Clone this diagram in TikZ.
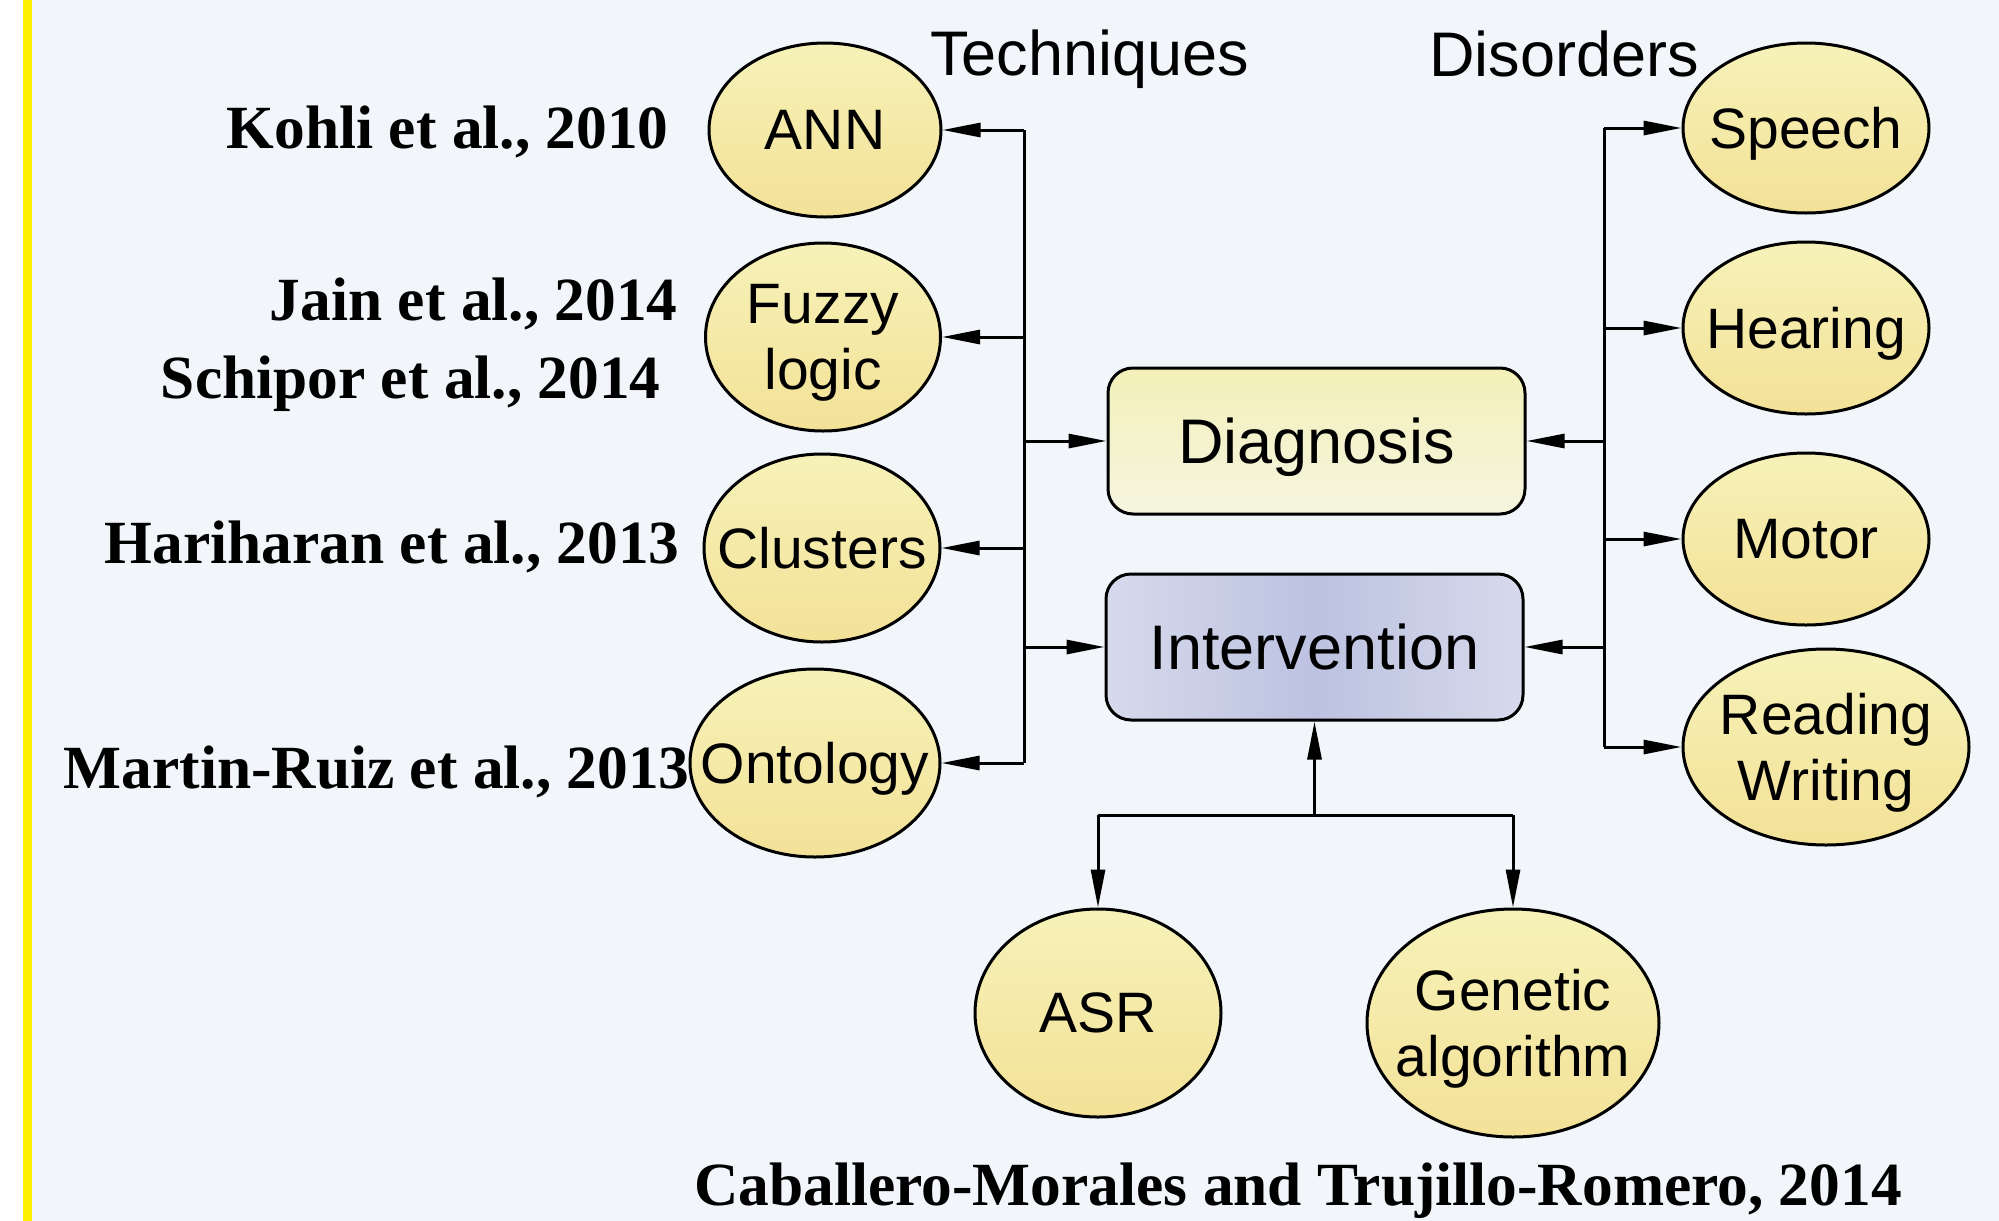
\documentclass[tikz,border=0pt]{standalone}
\usepackage{fontspec}
\setmainfont{Liberation Sans}
\newfontfamily\reffont{Liberation Serif}
\usetikzlibrary{shapes.geometric,arrows.meta}
\definecolor{bgc}{HTML}{F2F6FA}
\definecolor{stripe}{HTML}{FFF200}
\definecolor{ellTop}{HTML}{F6F2B8}
\definecolor{ellBot}{HTML}{F3E197}
\definecolor{diagTop}{HTML}{F3F0B8}
\definecolor{diagBot}{HTML}{F5F5E0}
\definecolor{intEdge}{HTML}{D7DAEC}
\definecolor{intMid}{HTML}{BCC2E0}
\begin{document}
\begin{tikzpicture}[x=0.5pt,y=-0.5pt,
  ell/.style={ellipse, draw=black, line width=1.5pt, top color=ellTop, bottom color=ellBot, inner sep=0pt},
  etxt/.style={align=center, inner sep=0pt, text depth=0pt, font=\fontsize{28.5}{33}\selectfont},
  etxtb/.style={align=center, inner sep=0pt, yshift=-3pt, font=\fontsize{28.5}{33}\selectfont},
  box/.style={rectangle, rounded corners=12.5pt, draw=black, line width=1.5pt, minimum width=208.5pt, minimum height=73pt, inner sep=0pt, text depth=0pt, font=\fontsize{31.5}{36}\selectfont},
  conn/.style={line width=1.5pt},
  arr/.style={conn, -{Triangle[length=19pt,width=7pt]}},
  reftxt/.style={font=\reffont\bfseries\fontsize{30.7}{34}\selectfont, inner sep=0pt, anchor=base east},
  head/.style={font=\fontsize{31.5}{36}\selectfont, anchor=base west, inner sep=0pt}]
% background
\fill[white] (0,0) rectangle (1999,1221);
\fill[bgc] (32,0) rectangle (1999,1221);
\fill[stripe] (23,0) rectangle (32,1221);
\useasboundingbox (0,0) rectangle (1999,1221);

% headers
\node[head] (hTech) at (930,75) {Techniques};
\node[head] (hDis) at (1429,76) {Disorders};

% technique ellipses
\node[ell, minimum width=116pt, minimum height=87pt] (ann) at (825,130) {};
\node[etxt] at (ann) {ANN};
\node[ell, minimum width=117.5pt, minimum height=94pt] (fuzzy) at (823,337) {};
\node[etxtb] at (fuzzy) {Fuzzy\\logic};
\node[ell, minimum width=118pt, minimum height=94pt] (clus) at (822,548) {};
\node[etxt] at (clus) {Clusters};
\node[ell, minimum width=125pt, minimum height=94pt] (onto) at (815,763) {};
\node[etxt] at (onto) {Ontology};

% disorder ellipses
\node[ell, minimum width=123pt, minimum height=85pt] (speech) at (1806,128) {};
\node[etxt] at (speech) {Speech};
\node[ell, minimum width=123pt, minimum height=86pt] (hear) at (1806,328) {};
\node[etxt] at (hear) {Hearing};
\node[ell, minimum width=123pt, minimum height=86pt] (motor) at (1806,539) {};
\node[etxt] at (motor) {Motor};
\node[ell, minimum width=143pt, minimum height=98pt] (read) at (1826,747) {};
\node[etxtb] at (read) {Reading\\Writing};

% bottom ellipses
\node[ell, minimum width=123pt, minimum height=104pt] (asr) at (1098,1013) {};
\node[etxt] at (asr) {ASR};
\node[ell, minimum width=146pt, minimum height=114pt] (gen) at (1513,1023) {};
\node[etxtb] at (gen) {Genetic\\algorithm};

% boxes
\node[box, top color=diagTop, bottom color=diagBot] (diag) at (1316.5,441) {Diagnosis};
\node[box, left color=intEdge, right color=intEdge, middle color=intMid] (interv) at (1314.5,647) {Intervention};

% references
\node[reftxt] (r1) at (669,148) {Kohli et al., 2010};
\node[reftxt] (r2) at (678,320) {Jain et al., 2014};
\node[reftxt] (r3) at (661,398) {Schipor et al., 2014};
\node[reftxt] (r4) at (680,563) {Hariharan et al., 2013};
\node[reftxt] (r5) at (690,788) {Martin-Ruiz et al., 2013};
\node[reftxt, anchor=base] (r6) at (1298,1205) {Caballero-Morales and Trujillo-Romero, 2014};

% left trunk
\coordinate (LT) at (1024,130);
\coordinate (LB) at (1024,763);
\draw[conn] (LT) -- (LB);
\draw[arr] (LT) -- (ann);
\draw[arr] (LT |- fuzzy) -- (fuzzy);
\draw[arr] (LT |- diag) -- (diag);
\draw[arr] (LT |- clus) -- (clus);
\draw[arr] (LT |- interv) -- (interv);
\draw[arr] (LB) -- (onto);

% right trunk
\coordinate (RT) at (1604,128);
\coordinate (RB) at (1604,747);
\draw[conn] (RT) -- (RB);
\draw[arr] (RT) -- (speech);
\draw[arr] (RT |- hear) -- (hear);
\draw[arr] (RT |- diag) -- (diag);
\draw[arr] (RT |- motor) -- (motor);
\draw[arr] (RT |- interv) -- (interv);
\draw[arr] (RB) -- (read);

% bottom
\coordinate (BJ) at (1314.5,815);
\draw[arr] (BJ) -- (interv);
\draw[conn] (asr |- BJ) -- (gen |- BJ);
\draw[arr] (asr |- BJ) -- (asr);
\draw[arr] (gen |- BJ) -- (gen);
\end{tikzpicture}
\end{document}
